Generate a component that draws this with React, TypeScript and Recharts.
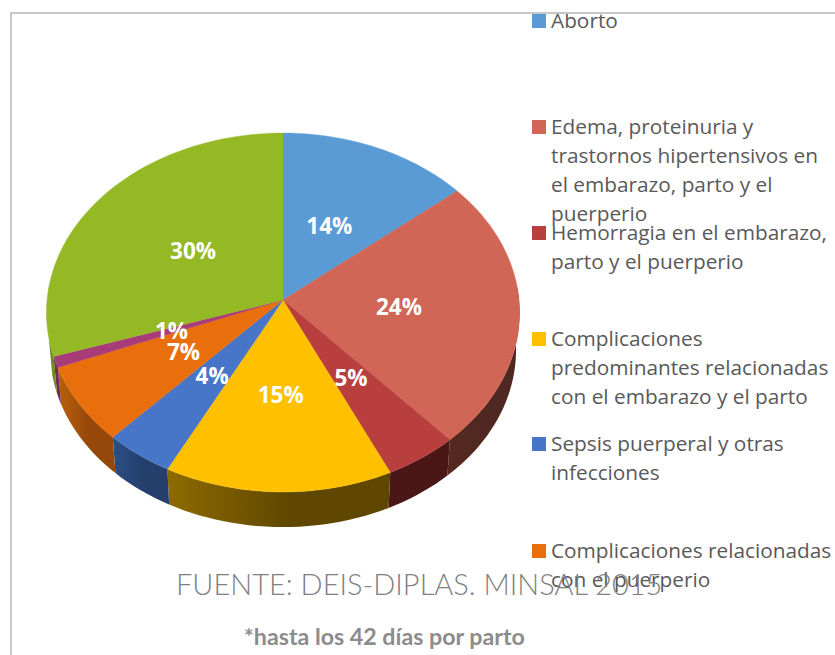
import { Legend, Pie, PieChart } from "recharts";

const W = 835;
const H = 655;

const categories = [
  "Aborto",
  "Edema, proteinuria y trastornos hipertensivos en el embarazo, parto y el puerperio",
  "Hemorragia en el embarazo, parto y el puerperio",
  "Complicaciones predominantes relacionadas con el embarazo y el parto",
  "Sepsis puerperal y otras infecciones",
  "Complicaciones relacionadas con el puerperio",
  "Otras (fuera de la leyenda visible)",
  "Resto (fuera de la leyenda visible)",
];
// the labels show these rounded
const values = [14, 24.3, 4.7, 14.6, 4.4, 7, 1, 30];
const colors = ["#5b9bd5", "#d16656", "#b93e3e", "#ffc000", "#4775c8", "#e96f0d", "#a83c78", "#95b825"];
const wallFrom = ["#2f5a80", "#55291f", "#4a1616", "#8e6b00", "#2c4f85", "#b8600c", "#6f2a58", "#6f8c1b"];
const wallTo = ["#2f5a80", "#4f2822", "#4a1616", "#5f4700", "#243f6c", "#96480a", "#6f2a58", "#6f8c1b"];

// how the legend wraps in the picture, and the top of each entry
const legendLines = [
  ["Aborto"],
  ["Edema, proteinuria y", "trastornos hipertensivos en", "el embarazo, parto y el", "puerperio"],
  ["Hemorragia en el embarazo,", "parto y el puerperio"],
  ["Complicaciones", "predominantes relacionadas", "con el embarazo y el parto"],
  ["Sepsis puerperal y otras", "infecciones"],
  ["Complicaciones relacionadas", "con el puerperio"],
];
const legendTops = [6, 112, 218, 324, 429, 536];

const pieData = categories.map((name, i) => ({ name, value: values[i], fill: colors[i] }));

// tilted disc: the apex is not the middle of the ellipse, the near side is larger
const RX = 236;
const RY = 178.6;
const TILT = 0.0696;
const DEPTH = 38;
const BOTTOM_SCALE = 0.985;

const project = (cx: number, cy: number, theta: number, r = 1) => {
  const rad = (theta * Math.PI) / 180;
  const w = 1 + TILT * Math.cos(rad);
  return {
    x: cx + (r * RX * Math.sin(rad)) / w,
    y: cy - (r * RY * Math.cos(rad)) / w,
  };
};

const arcPoints = (cx: number, cy: number, from: number, to: number) => {
  const steps = Math.max(2, Math.ceil(Math.abs(to - from) / 2));
  const pts = [];
  for (let i = 0; i <= steps; i++) pts.push(project(cx, cy, from + ((to - from) * i) / steps));
  return pts;
};

const toPath = (pts: { x: number; y: number }[]) =>
  pts.map((p, i) => `${i ? "L" : "M"}${p.x.toFixed(2)},${p.y.toFixed(2)}`).join(" ");

function TiltedSlice(props: any) {
  const { cx, cy, startAngle, endAngle, fill, name } = props;
  const from = 90 - startAngle;
  const to = 90 - endAngle;
  const arc = arcPoints(cx, cy, from, to);
  const wallStart = Math.max(from, 85);
  const wallEnd = Math.min(to, 258);
  const index = categories.indexOf(name);
  let wall = null;
  if (wallEnd > wallStart) {
    const upper = arcPoints(cx, cy, wallStart, wallEnd);
    const lower = upper
      .map((p) => ({
        x: cx + (p.x - cx) * BOTTOM_SCALE,
        y: cy + (p.y - cy) * BOTTOM_SCALE + DEPTH,
      }))
      .reverse();
    wall = <path d={toPath([...upper, ...lower]) + " Z"} fill={`url(#wall-${index})`} />;
  }
  return (
    <g>
      {wall}
      <path
        d={`M${cx},${cy} ` + toPath(arc).replace("M", "L") + " Z"}
        fill={fill}
        stroke={fill}
        strokeWidth={0.4}
      />
    </g>
  );
}

function SliceLabel(props: any) {
  const { cx, cy, midAngle, value } = props;
  const p = project(cx, cy, 90 - midAngle, 0.49);
  return (
    <text
      x={p.x}
      y={p.y}
      textAnchor="middle"
      dominantBaseline="central"
      fill="#ffffff"
      fontFamily="'Open Sans', sans-serif"
      fontWeight={700}
      fontSize={22.5}
    >
      {Math.round(value)}%
    </text>
  );
}

function LegendBox({ payload }: any) {
  const entries = (payload || []).filter((e: any) => categories.indexOf(e.value) < legendLines.length);
  return (
    <div style={{ position: "relative", width: W, height: 0 }}>
      {entries.map((e: any) => {
        const i = categories.indexOf(e.value);
        return (
          <div key={e.value} style={{ position: "absolute", left: 532, top: legendTops[i] }}>
            <div
              style={{
                position: "absolute",
                left: 0,
                top: 8,
                width: 14,
                height: 14,
                background: colors[i],
              }}
            />
            <div
              style={{
                marginLeft: 19,
                fontFamily: "'Open Sans', sans-serif",
                fontSize: 20.8,
                lineHeight: "29px",
                color: "#595959",
                whiteSpace: "nowrap",
              }}
            >
              {legendLines[i].map((line) => (
                <div key={line}>{line}</div>
              ))}
            </div>
          </div>
        );
      })}
    </div>
  );
}

export default function App() {
  return (
    <div style={{ position: "absolute", left: 0, top: 0, width: W, height: H, overflow: "hidden", background: "#fff" }}>
      <PieChart width={W} height={H} margin={{ top: 0, right: 0, bottom: 0, left: 0 }}>
        <defs>
          {colors.map((_, i) => (
            <linearGradient key={i} id={`wall-${i}`} x1="0" y1="0" x2="1" y2="0">
              <stop offset="0%" stopColor={wallFrom[i]} />
              <stop offset="55%" stopColor={wallTo[i]} />
            </linearGradient>
          ))}
        </defs>
        <Pie
          data={pieData}
          dataKey="value"
          nameKey="name"
          cx={283}
          cy={300}
          innerRadius={0}
          outerRadius={237}
          startAngle={90}
          endAngle={-270}
          stroke="none"
          isAnimationActive={false}
          shape={TiltedSlice}
          label={SliceLabel}
          labelLine={false}
        />
        <Legend
          layout="horizontal"
          align="left"
          verticalAlign="top"
          content={LegendBox}
          wrapperStyle={{ left: 0, top: 0, width: W }}
        />
      </PieChart>
      <div
        style={{
          position: "absolute",
          left: 10,
          top: 12,
          width: W,
          height: H,
          borderTop: "2px solid #c8c8c8",
          borderLeft: "2px solid #c8c8c8",
        }}
      />
      <div
        style={{
          position: "absolute",
          left: 176,
          top: 566,
          fontFamily: "Lato, sans-serif",
          fontWeight: 300,
          fontSize: 29,
          color: "#7f7f7f",
          whiteSpace: "nowrap",
        }}
      >
        FUENTE: DEIS-DIPLAS. MINSAL 2015
      </div>
      <div
        style={{
          position: "absolute",
          left: 244,
          top: 622,
          fontFamily: "Lato, sans-serif",
          fontWeight: 700,
          fontSize: 23.2,
          color: "#8c8c8c",
          whiteSpace: "nowrap",
        }}
      >
        *hasta los 42 días por parto
      </div>
    </div>
  );
}
